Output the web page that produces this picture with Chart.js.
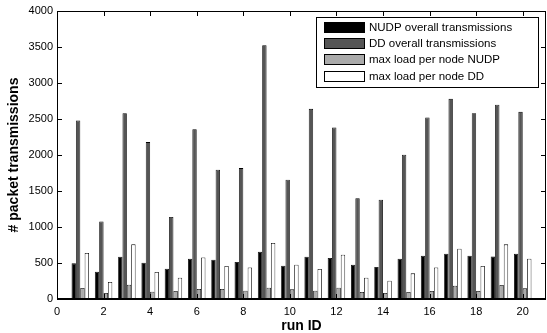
<!DOCTYPE html>
<html><head><meta charset="utf-8">
<script src="https://cdn.jsdelivr.net/npm/chart.js@4"></script>
<style>html,body{margin:0;padding:0;background:#fff;}#wrap{width:547px;height:333px;}</style>
</head><body><div id="wrap"><canvas id="c" width="547" height="333"></canvas></div>
<script>
const runIds = [1,2,3,4,5,6,7,8,9,10,11,12,13,14,15,16,17,18,19,20];
const nudpOverall = [495,379,587,504,421,560,546,513,657,463,587,569,476,444,560,601,629,601,592,629];
const ddOverall = [2479,1078,2581,2179,1138,2359,1795,1818,3525,1656,2641,2382,1401,1378,2003,2521,2780,2581,2697,2599];
const maxLoadNudp = [153,83,199,102,111,139,139,116,157,134,116,157,97,83,97,111,185,111,194,148];
const maxLoadDd = [638,236,759,375,296,578,458,439,777,476,416,615,296,254,356,439,698,458,759,560];
const seriesLabels = ['NUDP overall transmissions','DD overall transmissions','max load per node NUDP','max load per node DD'];
const seriesColors = ['#000000','#555555','#aaaaaa','#ffffff'];
const xTicks = [0,2,4,6,8,10,12,14,16,18,20];
const yTicks = [0,500,1000,1500,2000,2500,3000,3500,4000];

const FONT = '"Liberation Sans", Arial, Helvetica, sans-serif';
const toPts = arr => arr.map((v,i)=>({x:runIds[i], y:v}));
const allSeries = [nudpOverall, ddOverall, maxLoadNudp, maxLoadDd];

const frame = {
  id:'frame',
  afterDatasetsDraw(chart){
    const {ctx, chartArea:a, scales:{x,y}} = chart;
    ctx.save();
    ctx.strokeStyle='#000'; ctx.lineWidth=1;
    ctx.beginPath();
    ctx.rect(Math.round(a.left)+0.5, Math.round(a.top)+0.5, Math.round(a.right-a.left)-1, Math.round(a.bottom-a.top));
    ctx.stroke();
    const L=5;
    ctx.beginPath();
    xTicks.forEach(t=>{const px=Math.round(x.getPixelForValue(t))+0.5;
      ctx.moveTo(px,a.bottom); ctx.lineTo(px,a.bottom-L);
      ctx.moveTo(px,a.top); ctx.lineTo(px,a.top+L);});
    yTicks.forEach(t=>{const py=Math.round(y.getPixelForValue(t))+0.5;
      ctx.moveTo(a.left,py); ctx.lineTo(a.left+L,py);
      ctx.moveTo(a.right,py); ctx.lineTo(a.right-L,py);});
    ctx.stroke();
    ctx.lineWidth=2;
    ctx.beginPath(); ctx.moveTo(a.left, Math.round(a.bottom)); ctx.lineTo(a.right, Math.round(a.bottom)); ctx.stroke();
    // legend
    const lx=316, ly=17, lw=222, lh=70;
    ctx.fillStyle='#fff'; ctx.fillRect(lx,ly,lw,lh);
    ctx.lineWidth=1; ctx.strokeStyle='#000';
    ctx.strokeRect(lx+0.5,ly+0.5,lw,lh);
    ctx.font='11.5px '+FONT; ctx.textBaseline='middle'; ctx.textAlign='left';
    const rows=[28,44,60,77];
    chart.data.datasets.forEach((ds,i)=>{
      const cy=rows[i];
      ctx.fillStyle=ds.backgroundColor; ctx.fillRect(324.5,cy-5.5,40,10);
      ctx.strokeStyle='#000'; ctx.strokeRect(324.5,cy-5.5,40,10);
      ctx.fillStyle='#000'; ctx.fillText(ds.label,369,cy);
    });
    ctx.restore();
  }
};

new Chart(document.getElementById('c'),{
  type:'bar',
  data:{datasets: allSeries.map((s,i)=>({
    label:seriesLabels[i], data:toPts(s),
    backgroundColor:seriesColors[i], borderColor:'#000',
    borderWidth:{top:0.8,left:0.8,right:0.8,bottom:0}, borderSkipped:false, inflateAmount:0,
    categoryPercentage:0.75, barPercentage:1.0
  }))},
  options:{
    responsive:false, animation:false, devicePixelRatio:1,
    layout:{padding:{left:0,right:1,top:11,bottom:0}},
    plugins:{legend:{display:false}, tooltip:{enabled:false}},
    scales:{
      x:{type:'linear', min:0, max:21, offset:false,
        afterBuildTicks(s){ s.ticks = xTicks.map(v=>({value:v})); },
        afterFit(s){ s.height=34; },
        grid:{display:false, drawTicks:false}, border:{display:false},
        ticks:{color:'#000', font:{family:FONT,size:11}, padding:6, maxRotation:0, autoSkip:false,
          callback:v=>String(v)},
        title:{display:true, text:'run ID', color:'#000', font:{family:FONT,size:14,weight:'bold',lineHeight:1}, padding:{top:0,bottom:0}}
      },
      y:{min:0, max:4000,
        afterBuildTicks(s){ s.ticks = yTicks.map(v=>({value:v})); },
        afterFit(s){ s.width=57; },
        grid:{display:false, drawTicks:false}, border:{display:false},
        ticks:{color:'#000', font:{family:FONT,size:11}, padding:4, callback:v=>String(v)},
        title:{display:true, text:'# packet transmissions', color:'#000', font:{family:FONT,size:14,weight:'bold',lineHeight:1}, padding:{top:7,bottom:0}}
      }
    }
  },
  plugins:[frame]
});
</script></body></html>
